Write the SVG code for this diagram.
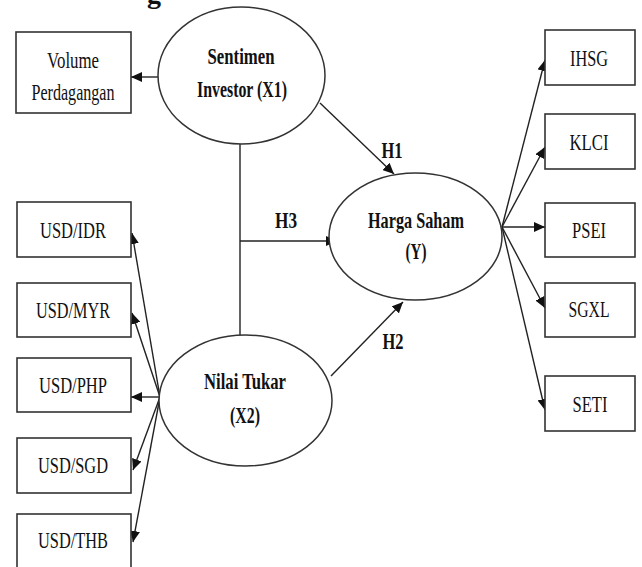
<svg xmlns="http://www.w3.org/2000/svg" width="642" height="567" viewBox="0 0 642 567">
<defs>
<style>
.box{fill:#fff;stroke:#333;stroke-width:1.6}
.ell{fill:#fff;stroke:#333;stroke-width:1.5}
.t{font-family:"Liberation Serif","Times New Roman",serif;font-size:24px;fill:#111;text-anchor:middle}
.b{font-weight:bold;font-size:23px}
.ln{stroke:#222;stroke-width:1.4;fill:none}
.ar{marker-end:url(#ah)}
</style>
<marker id="ah" markerUnits="userSpaceOnUse" markerWidth="12" markerHeight="10" refX="11" refY="5" orient="auto">
<path d="M0,0 L11,5 L0,10 Z" fill="#111"/>
</marker>
</defs>
<rect width="642" height="567" fill="#fff"/>
<text class="t b" x="154" y="3" style="font-size:28px">g</text>

<g id="connectors">
<line class="ln ar" x1="160" y1="77" x2="131" y2="77"/>
<line class="ln ar" x1="320" y1="103" x2="394" y2="174"/>
<line class="ln" x1="240" y1="144" x2="240" y2="335"/>
<line class="ln ar" x1="240" y1="241" x2="337" y2="241"/>
<line class="ln ar" x1="331" y1="376" x2="403" y2="302"/>
<line class="ln ar" x1="502" y1="227" x2="545" y2="60"/>
<line class="ln ar" x1="502" y1="227" x2="545" y2="147"/>
<line class="ln ar" x1="502" y1="227" x2="545" y2="227"/>
<line class="ln ar" x1="502" y1="227" x2="545" y2="308"/>
<line class="ln ar" x1="502" y1="227" x2="545" y2="410"/>
<line class="ln ar" x1="160" y1="397" x2="132" y2="233"/>
<line class="ln ar" x1="160" y1="397" x2="132" y2="313"/>
<line class="ln ar" x1="160" y1="397" x2="131" y2="397"/>
<line class="ln ar" x1="160" y1="397" x2="133" y2="470"/>
<line class="ln ar" x1="160" y1="397" x2="133" y2="542"/>
<text class="t b" x="392" y="158" textLength="21" lengthAdjust="spacingAndGlyphs">H1</text>
<text class="t b" x="393" y="349" textLength="21" lengthAdjust="spacingAndGlyphs">H2</text>
<text class="t b" x="286" y="228" textLength="22" lengthAdjust="spacingAndGlyphs">H3</text>
</g>

<g id="volume">
<rect class="box" x="16" y="32" width="115" height="81"/>
<text class="t" x="73" y="68" textLength="52" lengthAdjust="spacingAndGlyphs">Volume</text>
<text class="t" x="73" y="100" textLength="83" lengthAdjust="spacingAndGlyphs">Perdagangan</text>
</g>

<g id="sentimen">
<ellipse class="ell" cx="241.5" cy="75.5" rx="83.5" ry="68.5"/>
<text class="t b" x="241" y="64" textLength="67" lengthAdjust="spacingAndGlyphs">Sentimen</text>
<text class="t b" x="242" y="97" textLength="90" lengthAdjust="spacingAndGlyphs">Investor (X1)</text>
</g>

<g id="harga">
<ellipse class="ell" cx="415.5" cy="236.5" rx="86.5" ry="63.5"/>
<text class="t b" x="416" y="228" textLength="96" lengthAdjust="spacingAndGlyphs">Harga Saham</text>
<text class="t b" x="416" y="259" textLength="21" lengthAdjust="spacingAndGlyphs">(Y)</text>
</g>

<g id="nilai">
<ellipse class="ell" cx="245.5" cy="400.5" rx="86.5" ry="65.5"/>
<text class="t b" x="245" y="389" textLength="82" lengthAdjust="spacingAndGlyphs">Nilai Tukar</text>
<text class="t b" x="245" y="423" textLength="30" lengthAdjust="spacingAndGlyphs">(X2)</text>
</g>

<g id="ihsg"><rect class="box" x="545" y="30" width="90" height="55"/><text class="t" x="589" y="66" textLength="38" lengthAdjust="spacingAndGlyphs">IHSG</text></g>
<g id="klci"><rect class="box" x="545" y="114" width="90" height="55"/><text class="t" x="589" y="150" textLength="39" lengthAdjust="spacingAndGlyphs">KLCI</text></g>
<g id="psei"><rect class="box" x="545" y="203" width="90" height="54"/><text class="t" x="589" y="238" textLength="34" lengthAdjust="spacingAndGlyphs">PSEI</text></g>
<g id="sgxl"><rect class="box" x="545" y="283" width="90" height="54"/><text class="t" x="589" y="317" textLength="41" lengthAdjust="spacingAndGlyphs">SGXL</text></g>
<g id="seti"><rect class="box" x="545" y="376" width="90" height="55"/><text class="t" x="590" y="412" textLength="35" lengthAdjust="spacingAndGlyphs">SETI</text></g>

<g id="usd-idr"><rect class="box" x="17" y="202" width="114" height="55"/><text class="t" x="73" y="238" textLength="66" lengthAdjust="spacingAndGlyphs">USD/IDR</text></g>
<g id="usd-myr"><rect class="box" x="17" y="283" width="114" height="54"/><text class="t" x="73" y="318" textLength="74" lengthAdjust="spacingAndGlyphs">USD/MYR</text></g>
<g id="usd-php"><rect class="box" x="17" y="358" width="114" height="54"/><text class="t" x="73" y="393" textLength="68" lengthAdjust="spacingAndGlyphs">USD/PHP</text></g>
<g id="usd-sgd"><rect class="box" x="17" y="438" width="114" height="55"/><text class="t" x="73" y="473" textLength="70" lengthAdjust="spacingAndGlyphs">USD/SGD</text></g>
<g id="usd-thb"><rect class="box" x="17" y="514" width="114" height="56"/><text class="t" x="73" y="548" textLength="70" lengthAdjust="spacingAndGlyphs">USD/THB</text></g>
</svg>
